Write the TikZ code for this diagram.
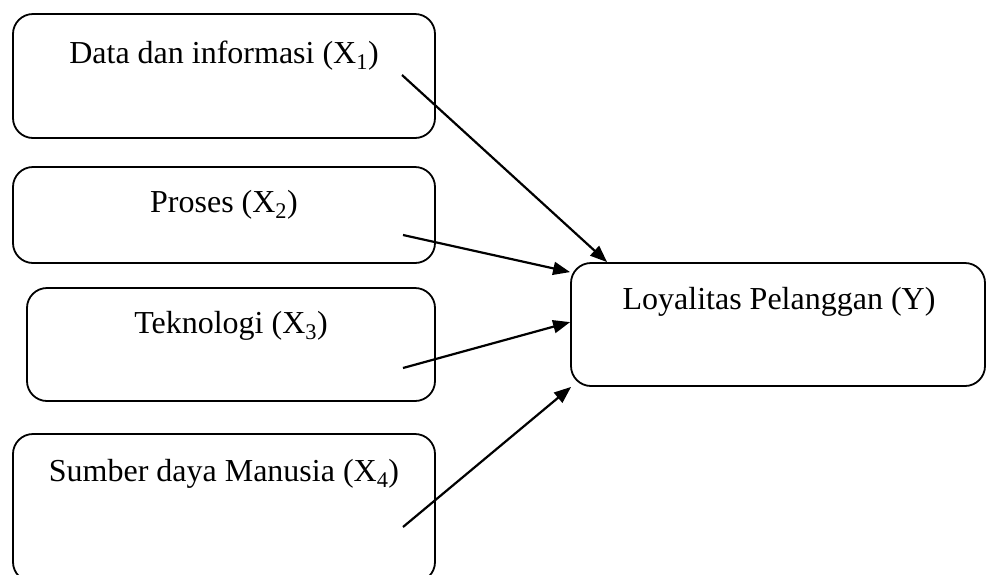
\documentclass[tikz,border=0pt]{standalone}
\usepackage{fontspec}
\setmainfont{Liberation Serif}
\usetikzlibrary{arrows.meta,calc}
\begin{document}
\begin{tikzpicture}[x=1pt,y=-1pt,
  box/.style={draw=black,line width=1.8pt,rounded corners=20pt,inner sep=0pt},
  lbl/.style={anchor=base,inner sep=0pt,font=\fontsize{32}{37}\selectfont},
  conn/.style={line width=2.2pt,-{Triangle[length=17pt,width=13pt]}}]
\useasboundingbox (0,0) rectangle (986,574);
% boxes
\node[box,minimum width=422pt,minimum height=124pt] (b1) at (224,76) {};
\node[box,minimum width=422pt,minimum height=96pt] (b2) at (224,215) {};
\node[box,minimum width=408pt,minimum height=113pt] (b3) at (231,344.5) {};
\node[box,minimum width=422pt,minimum height=148pt] (b4) at (224,508) {};
\node[box,minimum width=414pt,minimum height=123pt] (y) at (778,324.5) {};
% texts
\node[lbl] (t1) at (224,63) {Data dan informasi (X\textsubscript{1})};
\node[lbl] (t2) at (224,212) {Proses (X\textsubscript{2})};
\node[lbl] (t3) at (231,333) {Teknologi (X\textsubscript{3})};
\node[lbl] (t4) at (224,481) {Sumber daya Manusia (X\textsubscript{4})};
\node[lbl] (ty) at (779,309) {Loyalitas Pelanggan (Y)};
% free ends
\coordinate (s1) at (402,75);
\coordinate (s2) at (403,235);
\coordinate (s3) at (403,368);
\coordinate (s4) at (403,527);
\coordinate (e1) at ($(y.north west)+(37,0)$);
\coordinate (e2) at ($(y.north west)+(0,10)$);
\coordinate (e3) at ($(y.north west)+(0,60)$);
\coordinate (e4) at ($(y.south west)+(1,0)$);
\draw[conn] (s1) -- (e1);
\draw[conn] (s2) -- (e2);
\draw[conn] (s3) -- (e3);
\draw[conn] (s4) -- (e4);
\end{tikzpicture}
\end{document}
